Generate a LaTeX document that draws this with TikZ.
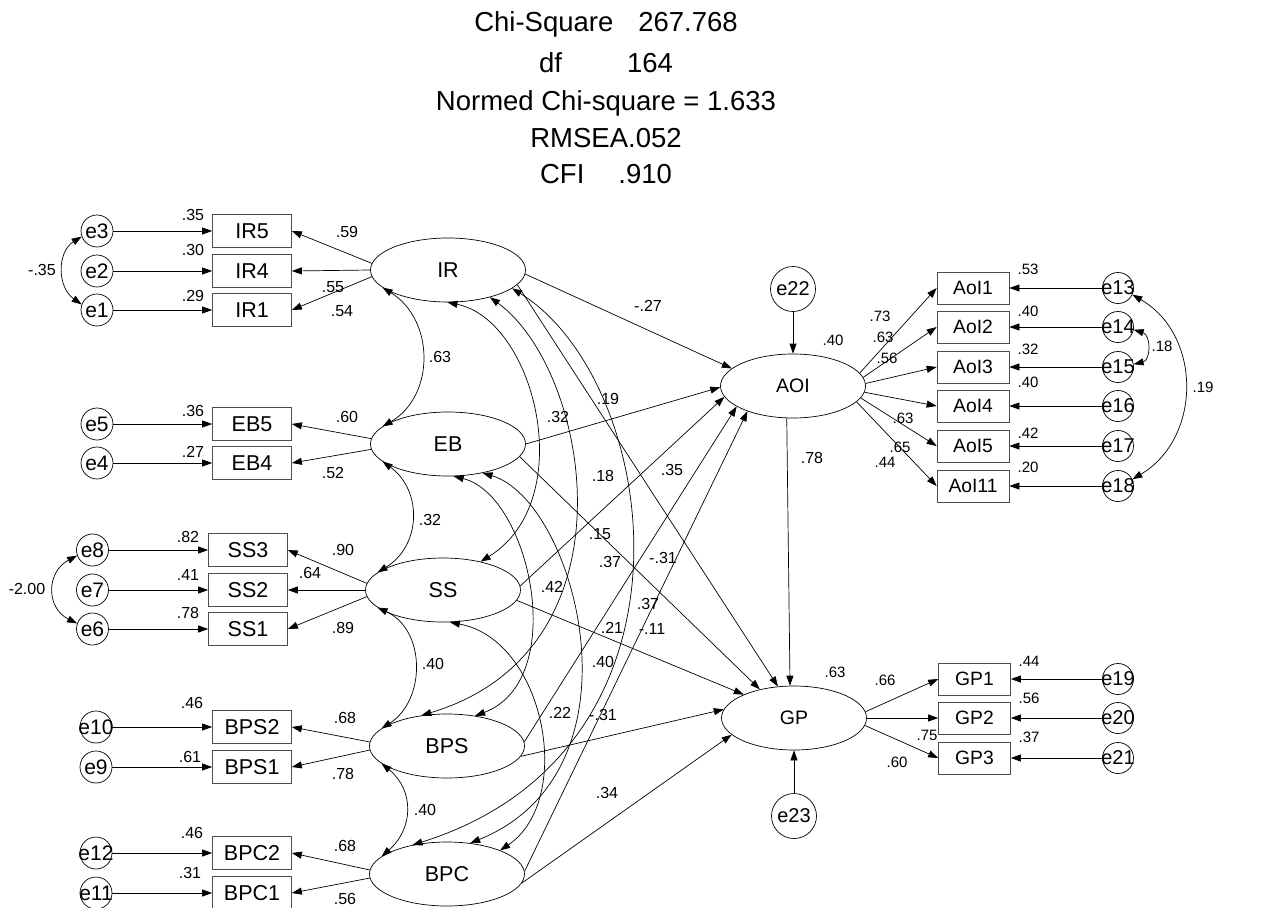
\documentclass[tikz,border=0pt]{standalone}
\usepackage{fontspec}
\setmainfont{Liberation Sans}
\usetikzlibrary{arrows.meta,shapes,positioning}

\tikzset{
  latent/.style={draw, ellipse, inner sep=0pt, minimum width=155pt, minimum height=64pt, font=\fontsize{21.5}{24}\selectfont},
  latentr/.style={latent, minimum width=145pt, font=\fontsize{19.5}{22}\selectfont},
  obs/.style={draw=black!70, rectangle, inner sep=0pt, minimum width=79pt, minimum height=33pt, font=\fontsize{21.5}{24}\selectfont},
  obsr/.style={obs, minimum width=72pt, minimum height=32pt, font=\fontsize{19.3}{22}\selectfont},
  err/.style={draw, circle, inner sep=0pt, minimum size=32pt, font=\fontsize{21}{24}\selectfont},
  errr/.style={err, minimum size=31pt, font=\fontsize{20}{24}\selectfont},
  dstb/.style={err, minimum size=45pt, font=\fontsize{20}{24}\selectfont},
  coef/.style={inner sep=0pt, font=\fontsize{16}{18}\selectfont},
  coefr/.style={coef, font=\fontsize{15}{18}\selectfont},
  fitidx/.style={inner sep=0pt, anchor=base, font=\fontsize{27.5}{30}\selectfont},
  reg/.style={->},
  cov/.style={<->},
}

\begin{document}
\begin{tikzpicture}[x=1pt, y=-1pt, line width=0.7pt, >={Triangle[length=10pt,width=7pt]}] % {{{
    \useasboundingbox (0,0) rectangle (1265,907);
    % Fit indices {{{
    \node[fitidx] (chisq) at (606,32) {Chi-Square\hspace{25pt}267.768};
    \node[fitidx] (df) at (606,72) {df\hspace{65pt}164};
    \node[fitidx] (nchisq) at (606,110) {Normed Chi-square = 1.633};
    \node[fitidx] (rmsea) at (606,147) {RMSEA.052};
    \node[fitidx] (cfi) at (606,183) {CFI\hspace{34pt}.910};
    % }}}
    % Latent factors {{{
    \node[latent] (IR) at (448,270) {IR};
    \node[latent] (EB) at (448,444) {EB};
    \node[latent] (SS) at (443,590) {SS};
    \node[latent] (BPS) at (447,746) {BPS};
    \node[latent] (BPC) at (447,874) {BPC};
    \node[latentr] (AOI) at (793,386) {AOI};
    \node[latentr] (GP) at (794,718) {GP};
    \node[dstb] (e22) at (793,289) {e22};
    \node[dstb] (e23) at (794,816) {e23};
    % }}}
    % Indicators with their error terms {{{
    \foreach \b/\e/\x/\ex/\y in {IR5/e3/252/97/231, IR4/e2/252/97/271, IR1/e1/252/97/310,
        EB5/e5/252/97/424, EB4/e4/252/97/463,
        SS3/e8/248/92.5/550, SS2/e7/248/92.5/590, SS1/e6/248/92.5/629,
        BPS2/e10/252/96/727, BPS1/e9/252/96/767, BPC2/e12/252/96/853, BPC1/e11/252/96/893} {
      \node[obs] (\b) at (\x,\y) {\b};
      \node[err] (\e) at (\ex,\y) {\makebox[0pt]{\e}};
      \draw[reg] (\e) -- (\b);
    }
    \foreach \b/\e/\y in {AoI1/e13/288, AoI2/e14/327, AoI3/e15/367, AoI4/e16/406, AoI5/e17/446, AoI11/e18/486} {
      \node[obsr] (\b) at (973,\y) {\b};
      \node[errr] (\e) at (1118,\y) {\makebox[0pt]{\e}};
      \draw[reg] (\e) -- (\b);
    }
    \foreach \b/\e/\y in {GP1/e19/679, GP2/e20/718, GP3/e21/758} {
      \node[obsr] (\b) at (974.5,\y) {\b};
      \node[errr] (\e) at (1118,\y) {\makebox[0pt]{\e}};
      \draw[reg] (\e) -- (\b);
    }
    % }}}
    % Loadings {{{
    \foreach \f/\b/\ang in {IR/IR5/175, IR/IR4/180, IR/IR1/185, EB/EB5/176, EB/EB4/184,
        SS/SS3/175, SS/SS2/180, SS/SS1/185, BPS/BPS2/177, BPS/BPS1/183, BPC/BPC2/177, BPC/BPC1/183}
      \draw[reg] (\f.\ang) -- (\b.east);
    \foreach \b/\ang in {AoI1/11, AoI2/7, AoI3/2, AoI4/-5, AoI5/-10, AoI11/-14}
      \draw[reg] (AOI.\ang) -- (\b.west);
    \foreach \b/\ang in {GP1/5, GP2/0, GP3/-6}
      \draw[reg] (GP.\ang) -- (\b.west);
    % }}}
    % Structural paths {{{
    \draw[reg] (IR.-3) -- (AOI.164);
    \draw[reg] (IR.-12) -- (GP.117);
    \draw[reg] (EB.0) -- (AOI.181);
    \draw[reg] (EB.-10) -- (GP.140);
    \draw[reg] (SS.3) -- (AOI.189);
    \draw[reg] (SS.-8) -- (GP.155);
    \draw[reg] (BPS.3) -- (AOI.200);
    \draw[reg] (BPS.-8) -- (GP.173);
    \draw[reg] (BPC.2) -- (AOI.209);
    \draw[reg] (BPC.-7) -- (GP.195);
    \draw[reg] (AOI.259) -- (GP.97);
    \draw[reg] (e22) -- (AOI);
    \draw[reg] (e23) -- (GP);
    % }}}
    % Covariances {{{
    \draw[cov] (IR.195) .. controls (435,320) and (435,396) .. (EB.165);
    \draw[cov] (EB.195) .. controls (422,490) and (422,545) .. (SS.165);
    \draw[cov] (SS.195) .. controls (426,630) and (426,700) .. (BPS.165);
    \draw[cov] (BPS.195) .. controls (414,790) and (414,828) .. (BPC.165);
    \draw[cov] (IR.-91) .. controls (535,320) and (580,500) .. (SS.37);
    \draw[cov] (IR.-33) .. controls (590,370) and (640,650) .. (BPS.130);
    \draw[cov] (IR.-16) .. controls (660,380) and (715,750) .. (BPC.140);
    \draw[cov] (EB.-80) .. controls (530,495) and (570,680) .. (BPS.47);
    \draw[cov] (EB.-40) .. controls (575,500) and (650,770) .. (BPC.53);
    \draw[cov] (SS.-78) .. controls (545,640) and (575,800) .. (BPC.24);
    \draw[cov] (e3.200) .. controls (57,252) and (57,287) .. (e1.160);
    \draw[cov] (e8.200) .. controls (46,572) and (46,608) .. (e6.160);
    \draw[cov] (e13.-25) .. controls (1202,335) and (1202,438) .. (e18.25);
    \draw[cov] (e14.-10) .. controls (1151,335) and (1151,360) .. (e15.10);
    % }}}
    % Estimates {{{
    \foreach \t/\x/\y [count=\i] in {.35/193/215, .30/193/250, .29/193/296, .59/347/232, .55/333/287, .54/342/311,
        .36/193/411, .27/193/452, .60/347/417, .52/333/473,
        .82/188/537, .41/188/575, .78/188/613, .90/343/550, .64/310/573, .89/343/628,
        .46/192/703, .61/190/757, .68/345/718, .78/343/774,
        .46/192/833, .31/190/873, .68/345/846, .56/345/899,
        -.35/42/270, -2.00/27/589,
        -.27/648/306, .63/440/357, .19/608/399, .32/558/417, .18/603/476, .35/672/470,
        .32/430/520, .15/600/534, .37/610/562, -.31/663/558, .42/552/587, .37/648/604,
        .21/612/628, -.11/652/629, .40/433/664, .40/603/662, .22/560/713, -.31/603/715,
        .34/607/793, .40/425/810, .78/812/458}
      \node[coef] (cl\i) at (\x,\y) {\t};
    \foreach \t/\x/\y [count=\i] in {.40/833/340, .73/880/316, .63/883/337, .56/887/358,
        .63/903/418, .65/900/447, .44/885/462,
        .53/1028/269, .40/1028/311, .32/1028/349, .40/1028/382, .42/1028/433, .20/1028/467,
        .18/1162/346, .19/1203/387,
        .63/835/672, .66/885/680, .75/927/735, .60/897/762,
        .44/1029/661, .56/1029/698, .37/1029/737}
      \node[coefr] (cr\i) at (\x,\y) {\t};
    % }}}
\end{tikzpicture} % }}}
\end{document}
